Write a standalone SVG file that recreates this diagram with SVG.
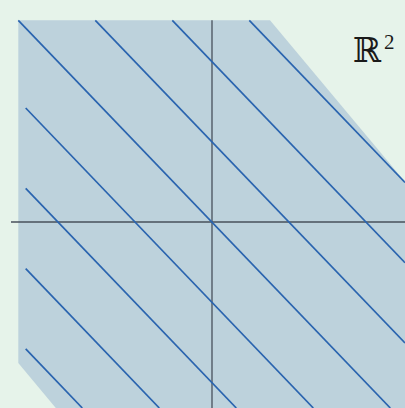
<svg xmlns="http://www.w3.org/2000/svg" width="405" height="408" viewBox="0 0 405 408">
  <style>
    .bg { fill: #e6f3ea; }
    .region { fill: #bdd2dc; stroke: none; }
    .axis { stroke: #48515b; stroke-width: 1.3; fill: none; }
    .level { stroke: #2a64af; stroke-width: 1.7; fill: none; stroke-linecap: butt; }
    .label { fill: #1a1a1a; font-family: "DejaVu Serif", "Liberation Serif", serif; }
  </style>
  <rect class="bg" x="0" y="0" width="405" height="408"/>
  <g id="region">
    <polygon class="region" points="18.3,20.3 270,20.3 405,181.7 405,408 55.8,408 18.3,363"/>
  </g>
  <g id="axes">
    <line class="axis" x1="11" y1="222" x2="405" y2="222"/>
    <line class="axis" x1="212" y1="20.3" x2="212" y2="408"/>
  </g>
  <g id="connectors">
    <line class="level" x1="249.3" y1="20.3" x2="405" y2="182.4"/>
    <line class="level" x1="172.3" y1="20.3" x2="405" y2="262.7"/>
    <line class="level" x1="95.3" y1="20.3" x2="405" y2="343"/>
    <line class="level" x1="18.3" y1="20.3" x2="390.3" y2="408"/>
    <line class="level" x1="25.7" y1="108" x2="313.3" y2="408"/>
    <line class="level" x1="25.7" y1="188.3" x2="236.3" y2="408"/>
    <line class="level" x1="25.7" y1="268.6" x2="159.3" y2="408"/>
    <line class="level" x1="25.7" y1="348.9" x2="82.3" y2="408"/>
  </g>
  <g id="label">
    <text class="label" x="353" y="62.3" font-size="34">ℝ</text>
    <text class="label" x="384" y="48.5" font-size="21" style="font-family: 'Liberation Serif', serif;">2</text>
  </g>
</svg>
